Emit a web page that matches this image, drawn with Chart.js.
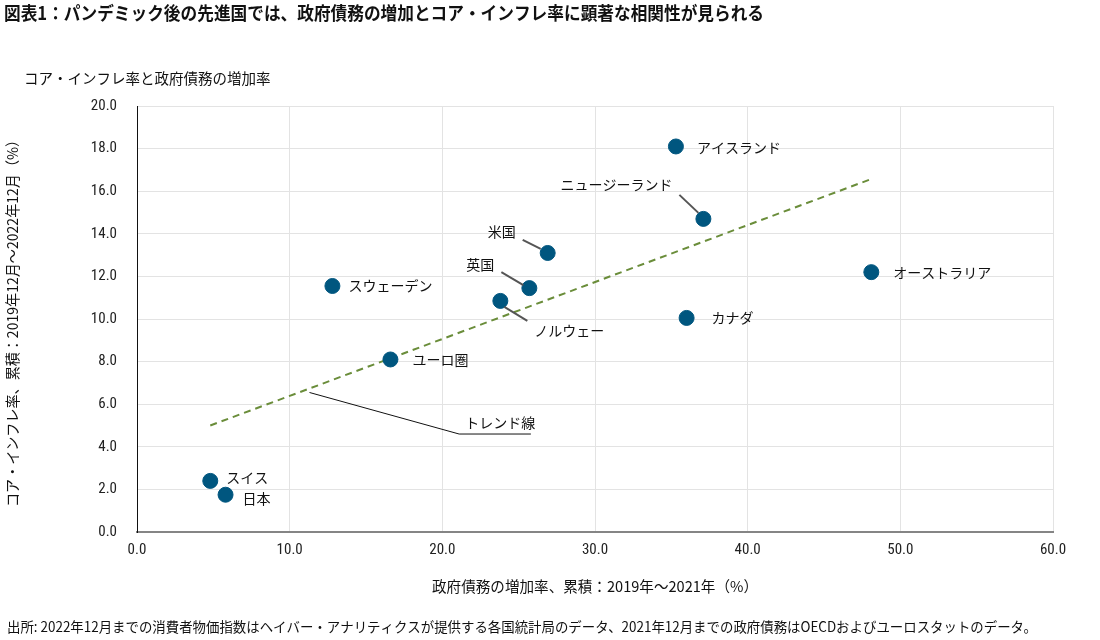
<!DOCTYPE html>
<html><head><meta charset="utf-8">
<script src="https://cdn.jsdelivr.net/npm/chart.js@4.4.0/dist/chart.umd.min.js"></script>
<style>html,body{margin:0;padding:0;background:#fff}#wrap{width:1100px;height:640px;position:relative}</style>
</head><body><div id="wrap"><canvas id="c"></canvas></div>
<script>
// ---- data ----
const countries = ['スイス','日本','ユーロ圏','スウェーデン','ノルウェー','英国','米国','カナダ','ニュージーランド','アイスランド','オーストラリア'];
const debtGrowth = [4.8, 5.8, 16.6, 12.8, 23.8, 25.7, 26.9, 36.0, 37.1, 35.3, 48.1];
const coreInflation = [2.4, 1.75, 8.1, 11.55, 10.85, 11.45, 13.1, 10.05, 14.7, 18.1, 12.2];
const trendX = [4.8, 48.2];
const trendY = [5.0, 16.6];
const trendLabel = 'トレンド線';
const trendLeaderX = [11.3, 21.1, 25.8];
const trendLeaderY = [6.55, 4.6, 4.6];
const xMin = 0, xMax = 60, xStep = 10;
const yMin = 0, yMax = 20, yStep = 2;
const titleText = '図表1：パンデミック後の先進国では、政府債務の増加とコア・インフレ率に顕著な相関性が見られる';
const subtitleText = 'コア・インフレ率と政府債務の増加率';
const yTitleText = 'コア・インフレ率、累積：2019年12月～2022年12月（%）';
const xTitleText = '政府債務の増加率、累積：2019年～2021年（%）';
const sourceText = '出所: 2022年12月までの消費者物価指数はヘイバー・アナリティクスが提供する各国統計局のデータ、2021年12月までの政府債務はOECDおよびユーロスタットのデータ。';

// ---- label placement (pixel offsets from point; style only) ----
const labelPlace = {
  'スイス':        {dx:16, dy:-3, align:'left'},
  '日本':          {dx:17, dy:4, align:'left'},
  'ユーロ圏':      {dx:22, dy:0, align:'left'},
  'スウェーデン':  {dx:16, dy:0, align:'left'},
  'ノルウェー':    {dx:34, dy:30, align:'left', lead:[4,6,27,20]},
  '英国':          {dx:-35, dy:-23, align:'right', lead:[-28,-16,-6,-3]},
  '米国':          {dx:-32, dy:-21, align:'right', lead:[-25,-13,-7,-4]},
  'カナダ':        {dx:25, dy:0, align:'left'},
  'ニュージーランド':{dx:-31, dy:-34, align:'right', lead:[-24,-24,-5,-6]},
  'アイスランド':  {dx:21, dy:1, align:'left'},
  'オーストラリア':{dx:22, dy:1, align:'left'}
};

const JP = '"Noto Sans CJK JP", "Noto Sans", sans-serif';
const NUM = '"Liberation Sans Narrow", "Roboto Condensed", "DejaVu Sans Condensed", Roboto, sans-serif';

const points = debtGrowth.map((x,i)=>({x, y: coreInflation[i]}));
const trend = trendX.map((x,i)=>({x, y: trendY[i]}));

const decorPlugin = {
  id:'decor',
  afterDatasetsDraw(chart){
    const ctx = chart.ctx, xs = chart.scales.x, ys = chart.scales.y;
    ctx.save();
    const meta = chart.getDatasetMeta(1);
    countries.forEach((name,i)=>{
      const el = meta.data[i];
      const p = labelPlace[name];
      if (p.lead){
        ctx.strokeStyle = '#555'; ctx.lineWidth = 2; ctx.setLineDash([]);
        ctx.beginPath();
        ctx.moveTo(el.x + p.lead[0], el.y + p.lead[1]);
        ctx.lineTo(el.x + p.lead[2], el.y + p.lead[3]);
        ctx.stroke();
      }
      ctx.fillStyle = '#111';
      ctx.font = '14px ' + JP;
      ctx.textAlign = p.align; ctx.textBaseline = 'middle';
      ctx.fillText(name, el.x + p.dx, el.y + p.dy);
    });
    ctx.strokeStyle = '#111'; ctx.lineWidth = 1;
    ctx.beginPath();
    trendLeaderX.forEach((x,i)=>{
      const px = xs.getPixelForValue(x), py = ys.getPixelForValue(trendLeaderY[i]);
      if(i===0) ctx.moveTo(px,py); else ctx.lineTo(px,py);
    });
    ctx.stroke();
    ctx.fillStyle = '#111'; ctx.font = '14px ' + JP;
    ctx.textAlign = 'left'; ctx.textBaseline = 'middle';
    ctx.fillText(trendLabel, xs.getPixelForValue(trendLeaderX[1]) + 6, ys.getPixelForValue(trendLeaderY[1]) - 11);
    ctx.restore();
  },
  afterDraw(chart){
    const ctx = chart.ctx;
    ctx.save();
    ctx.fillStyle = '#111';
    ctx.textBaseline = 'middle';
    ctx.textAlign = 'left';
    ctx.font = 'bold 18px ' + JP;
    ctx.fillText(titleText, 4, 13, 760);
    ctx.font = '14.5px ' + JP;
    ctx.fillText(subtitleText, 24, 78, 252);
    ctx.textAlign = 'center';
    ctx.font = '15px ' + JP;
    ctx.fillText(xTitleText, 595, 586, 326);
    ctx.save();
    ctx.translate(12, 320);
    ctx.rotate(-Math.PI/2);
    ctx.font = '14.5px ' + JP;
    ctx.fillText(yTitleText, 0, 0, 374);
    ctx.restore();
    ctx.textAlign = 'left';
    ctx.font = '14px ' + JP;
    ctx.fillText(sourceText, 7, 627, 1030);
    ctx.restore();
  }
};

new Chart(document.getElementById('c'), {
  type:'scatter',
  data:{datasets:[
    {type:'line', data: trend, borderColor:'#6a8d3a', borderWidth:2, borderDash:[7,5], pointRadius:0, fill:false, order:2},
    {data: points, backgroundColor:'#00567f', borderColor:'#00567f', pointRadius:7.5, pointHoverRadius:7.5, order:1}
  ]},
  options:{
    responsive:true, maintainAspectRatio:false, animation:false,
    layout:{padding:{top:106, right:47, left:0, bottom:0}},
    plugins:{legend:{display:false}, tooltip:{enabled:false}},
    scales:{
      x:{type:'linear', min:xMin, max:xMax,
         ticks:{stepSize:xStep, padding:9, color:'#222', font:{family:NUM, size:15}, callback:v=>v.toFixed(1)},
         grid:{color:'#e3e3e3', lineWidth:1, drawTicks:false},
         border:{color:'#858585', width:2},
         afterFit(s){ s.height = 108; }
      },
      y:{type:'linear', min:yMin, max:yMax,
         ticks:{stepSize:yStep, padding:20, color:'#222', font:{family:NUM, size:15}, callback:v=>v.toFixed(1)},
         grid:{color:'#e3e3e3', lineWidth:1, drawTicks:false},
         border:{color:'#111', width:1},
         afterFit(s){ s.width = 137; }
      }
    }
  },
  plugins:[decorPlugin]
});
</script></body></html>
